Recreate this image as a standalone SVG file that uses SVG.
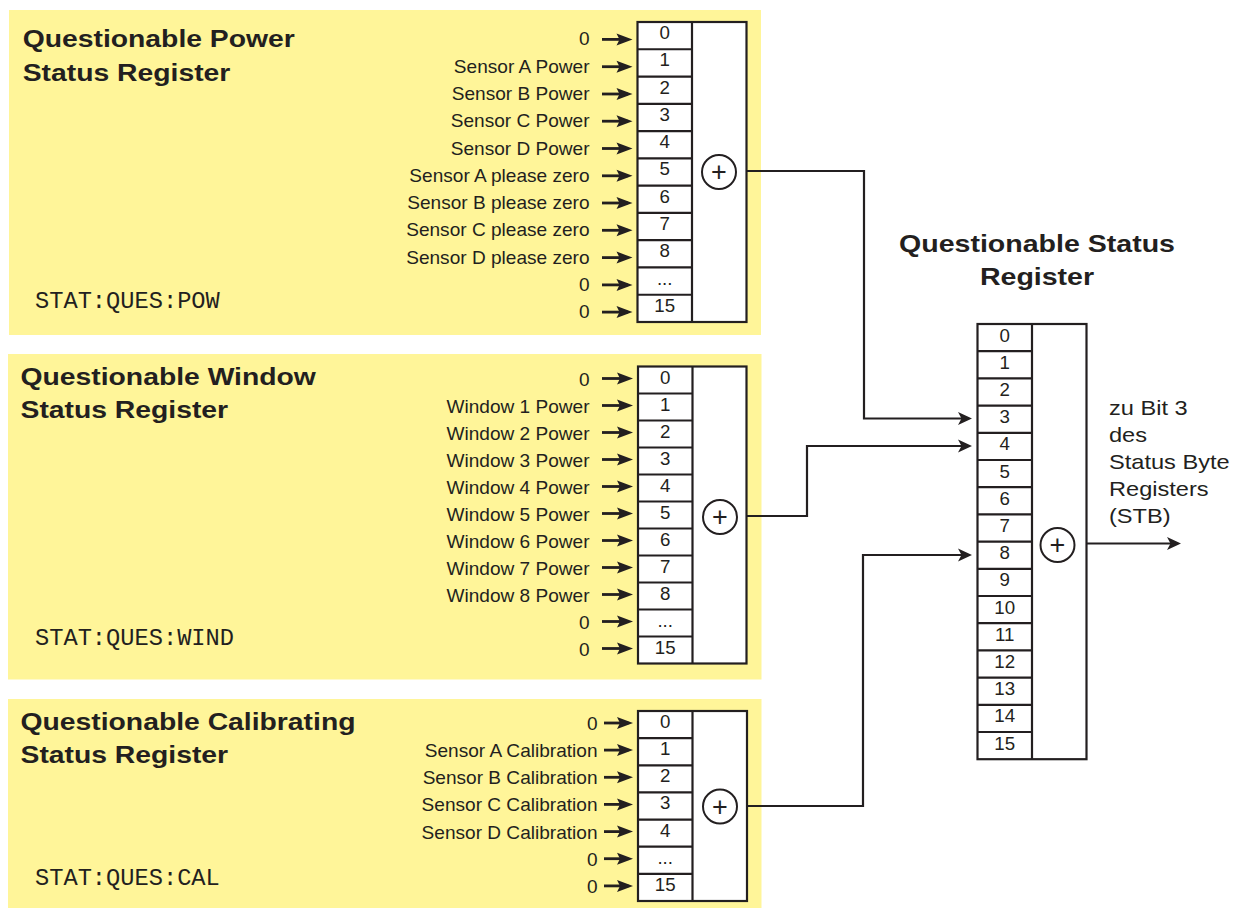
<svg xmlns="http://www.w3.org/2000/svg" width="1234" height="909" viewBox="0 0 1234 909">
<style>
.bg{fill:#fff599;stroke:none}
.cell{fill:#fff;stroke:#231f20;stroke-width:2.2}
.ln{fill:none;stroke:#231f20;stroke-width:2.2}
.sum{fill:#fff;stroke:#231f20;stroke-width:2}
.in{fill:none;stroke:#231f20;stroke-width:2.8;marker-end:url(#ahs)}
.con{fill:none;stroke:#231f20;stroke-width:2.2}
.conA{fill:none;stroke:#231f20;stroke-width:2.2;marker-end:url(#ahb)}
text{font-family:"Liberation Sans",Arial,sans-serif;fill:#231f20}
.t{font-size:24px;font-weight:bold}
.l{font-size:18px;text-anchor:end}
.d{font-size:18px;text-anchor:middle}
.o{font-size:20px}
.m{font-family:"Liberation Mono","Courier New",monospace;font-size:23.7px}
.p{font-size:27px;text-anchor:middle}
</style>
<defs>
<marker id="ahs" viewBox="-13 -7 18 14" refX="0" refY="0" markerWidth="18" markerHeight="14" markerUnits="userSpaceOnUse" orient="auto">
<path d="M4.5,0 L-11.5,-6 L-8.5,0 L-11.5,6 Z" fill="#231f20"/>
</marker>
<marker id="ahb" viewBox="-12 -8 17 16" refX="0" refY="0" markerWidth="17" markerHeight="16" markerUnits="userSpaceOnUse" orient="auto">
<path d="M4,0 L-10,-6.5 L-6.5,0 L-10,6.5 Z" fill="#231f20"/>
</marker>
</defs>
<rect width="1234" height="909" fill="#fff"/>

<g id="pow">
<rect class="bg" x="9" y="10" width="752" height="325"/>
<text class="t" transform="matrix(1.18 0 0 1 22.7 47.3)">Questionable Power</text>
<text class="t" transform="matrix(1.18 0 0 1 22.7 80.7)">Status Register</text>
<text class="m" x="35" y="307.5">STAT:QUES:POW</text>
<rect class="cell" x="637.5" y="22" width="109" height="300"/>
<path class="ln" d="M692,22V322M637.5,49.27H692M637.5,76.55H692M637.5,103.82H692M637.5,131.09H692M637.5,158.36H692M637.5,185.64H692M637.5,212.91H692M637.5,240.18H692M637.5,267.45H692M637.5,294.73H692"/>
<circle class="sum" cx="719" cy="172" r="17"/>
<text class="p" x="719" y="181">+</text>
<g>
<text class="d" transform="matrix(1.04 0 0 1 664.7 39)">0</text>
<text class="d" transform="matrix(1.04 0 0 1 664.7 66.3)">1</text>
<text class="d" transform="matrix(1.04 0 0 1 664.7 93.5)">2</text>
<text class="d" transform="matrix(1.04 0 0 1 664.7 120.8)">3</text>
<text class="d" transform="matrix(1.04 0 0 1 664.7 148.1)">4</text>
<text class="d" transform="matrix(1.04 0 0 1 664.7 175.4)">5</text>
<text class="d" transform="matrix(1.04 0 0 1 664.7 202.6)">6</text>
<text class="d" transform="matrix(1.04 0 0 1 664.7 229.9)">7</text>
<text class="d" transform="matrix(1.04 0 0 1 664.7 257.2)">8</text>
<text class="d" transform="matrix(1.04 0 0 1 664.7 284.5)">...</text>
<text class="d" transform="matrix(1.04 0 0 1 664.7 311.7)">15</text>
</g>
<g>
<text class="l" transform="matrix(1.06 0 0 1 589.5 45.4)">0</text>
<text class="l" transform="matrix(1.06 0 0 1 589.5 72.7)">Sensor A Power</text>
<text class="l" transform="matrix(1.06 0 0 1 589.5 100)">Sensor B Power</text>
<text class="l" transform="matrix(1.06 0 0 1 589.5 127.2)">Sensor C Power</text>
<text class="l" transform="matrix(1.06 0 0 1 589.5 154.5)">Sensor D Power</text>
<text class="l" transform="matrix(1.06 0 0 1 589.5 181.8)">Sensor A please zero</text>
<text class="l" transform="matrix(1.06 0 0 1 589.5 209)">Sensor B please zero</text>
<text class="l" transform="matrix(1.06 0 0 1 589.5 236.3)">Sensor C please zero</text>
<text class="l" transform="matrix(1.06 0 0 1 589.5 263.6)">Sensor D please zero</text>
<text class="l" transform="matrix(1.06 0 0 1 589.5 290.9)">0</text>
<text class="l" transform="matrix(1.06 0 0 1 589.5 318.1)">0</text>
</g>
<path class="in" d="M602,39.4H628"/>
<path class="in" d="M602,66.7H628"/>
<path class="in" d="M602,94H628"/>
<path class="in" d="M602,121.2H628"/>
<path class="in" d="M602,148.5H628"/>
<path class="in" d="M602,175.8H628"/>
<path class="in" d="M602,203H628"/>
<path class="in" d="M602,230.3H628"/>
<path class="in" d="M602,257.6H628"/>
<path class="in" d="M602,284.9H628"/>
<path class="in" d="M602,312.1H628"/>
</g>

<g id="wind">
<rect class="bg" x="8" y="354" width="753.5" height="325.5"/>
<text class="t" transform="matrix(1.18 0 0 1 20.5 385)">Questionable Window</text>
<text class="t" transform="matrix(1.18 0 0 1 20.5 418.3)">Status Register</text>
<text class="m" x="35" y="645">STAT:QUES:WIND</text>
<rect class="cell" x="638" y="366.5" width="108.5" height="297"/>
<path class="ln" d="M692.5,366.5V663.5M638,393.5H692.5M638,420.5H692.5M638,447.5H692.5M638,474.5H692.5M638,501.5H692.5M638,528.5H692.5M638,555.5H692.5M638,582.5H692.5M638,609.5H692.5M638,636.5H692.5"/>
<circle class="sum" cx="720" cy="517" r="17"/>
<text class="p" x="720" y="526">+</text>
<g>
<text class="d" transform="matrix(1.04 0 0 1 665.2 383.5)">0</text>
<text class="d" transform="matrix(1.04 0 0 1 665.2 410.5)">1</text>
<text class="d" transform="matrix(1.04 0 0 1 665.2 437.5)">2</text>
<text class="d" transform="matrix(1.04 0 0 1 665.2 464.5)">3</text>
<text class="d" transform="matrix(1.04 0 0 1 665.2 491.5)">4</text>
<text class="d" transform="matrix(1.04 0 0 1 665.2 518.5)">5</text>
<text class="d" transform="matrix(1.04 0 0 1 665.2 545.5)">6</text>
<text class="d" transform="matrix(1.04 0 0 1 665.2 572.5)">7</text>
<text class="d" transform="matrix(1.04 0 0 1 665.2 599.5)">8</text>
<text class="d" transform="matrix(1.04 0 0 1 665.2 626.5)">...</text>
<text class="d" transform="matrix(1.04 0 0 1 665.2 653.5)">15</text>
</g>
<g>
<text class="l" transform="matrix(1.06 0 0 1 589.5 385.5)">0</text>
<text class="l" transform="matrix(1.06 0 0 1 589.5 412.5)">Window 1 Power</text>
<text class="l" transform="matrix(1.06 0 0 1 589.5 439.5)">Window 2 Power</text>
<text class="l" transform="matrix(1.06 0 0 1 589.5 466.5)">Window 3 Power</text>
<text class="l" transform="matrix(1.06 0 0 1 589.5 493.5)">Window 4 Power</text>
<text class="l" transform="matrix(1.06 0 0 1 589.5 520.5)">Window 5 Power</text>
<text class="l" transform="matrix(1.06 0 0 1 589.5 547.5)">Window 6 Power</text>
<text class="l" transform="matrix(1.06 0 0 1 589.5 574.5)">Window 7 Power</text>
<text class="l" transform="matrix(1.06 0 0 1 589.5 601.5)">Window 8 Power</text>
<text class="l" transform="matrix(1.06 0 0 1 589.5 628.5)">0</text>
<text class="l" transform="matrix(1.06 0 0 1 589.5 655.5)">0</text>
</g>
<path class="in" d="M602,378.5H628.5"/>
<path class="in" d="M602,405.5H628.5"/>
<path class="in" d="M602,432.5H628.5"/>
<path class="in" d="M602,459.5H628.5"/>
<path class="in" d="M602,486.5H628.5"/>
<path class="in" d="M602,513.5H628.5"/>
<path class="in" d="M602,540.5H628.5"/>
<path class="in" d="M602,567.5H628.5"/>
<path class="in" d="M602,594.5H628.5"/>
<path class="in" d="M602,621.5H628.5"/>
<path class="in" d="M602,648.5H628.5"/>
</g>

<g id="cal">
<rect class="bg" x="8" y="699" width="753.5" height="209"/>
<text class="t" transform="matrix(1.18 0 0 1 20.5 730)">Questionable Calibrating</text>
<text class="t" transform="matrix(1.18 0 0 1 20.5 763.3)">Status Register</text>
<text class="m" x="35" y="885">STAT:QUES:CAL</text>
<rect class="cell" x="638" y="711" width="109" height="190"/>
<path class="ln" d="M692.5,711V901M638,738.14H692.5M638,765.29H692.5M638,792.43H692.5M638,819.57H692.5M638,846.71H692.5M638,873.86H692.5"/>
<circle class="sum" cx="720" cy="806.5" r="17"/>
<text class="p" x="720" y="815.5">+</text>
<g>
<text class="d" transform="matrix(1.04 0 0 1 665.2 728)">0</text>
<text class="d" transform="matrix(1.04 0 0 1 665.2 755.1)">1</text>
<text class="d" transform="matrix(1.04 0 0 1 665.2 782.3)">2</text>
<text class="d" transform="matrix(1.04 0 0 1 665.2 809.4)">3</text>
<text class="d" transform="matrix(1.04 0 0 1 665.2 836.6)">4</text>
<text class="d" transform="matrix(1.04 0 0 1 665.2 863.7)">...</text>
<text class="d" transform="matrix(1.04 0 0 1 665.2 890.9)">15</text>
</g>
<g>
<text class="l" transform="matrix(1.06 0 0 1 597.5 730)">0</text>
<text class="l" transform="matrix(1.06 0 0 1 597.5 757.1)">Sensor A Calibration</text>
<text class="l" transform="matrix(1.06 0 0 1 597.5 784.3)">Sensor B Calibration</text>
<text class="l" transform="matrix(1.06 0 0 1 597.5 811.4)">Sensor C Calibration</text>
<text class="l" transform="matrix(1.06 0 0 1 597.5 838.6)">Sensor D Calibration</text>
<text class="l" transform="matrix(1.06 0 0 1 597.5 865.7)">0</text>
<text class="l" transform="matrix(1.06 0 0 1 597.5 892.9)">0</text>
</g>
<path class="in" d="M604,723H628.5"/>
<path class="in" d="M604,750.1H628.5"/>
<path class="in" d="M604,777.3H628.5"/>
<path class="in" d="M604,804.4H628.5"/>
<path class="in" d="M604,831.6H628.5"/>
<path class="in" d="M604,858.7H628.5"/>
<path class="in" d="M604,885.9H628.5"/>
</g>

<g id="ques">
<text class="t" text-anchor="middle" transform="matrix(1.19 0 0 1 1037 252)">Questionable Status</text>
<text class="t" text-anchor="middle" transform="matrix(1.19 0 0 1 1037 285)">Register</text>
<rect class="cell" x="977.5" y="324" width="109" height="435.2"/>
<path class="ln" d="M1032,324V759.2M977.5,351.2H1032M977.5,378.4H1032M977.5,405.6H1032M977.5,432.8H1032M977.5,460H1032M977.5,487.2H1032M977.5,514.4H1032M977.5,541.6H1032M977.5,568.8H1032M977.5,596H1032M977.5,623.2H1032M977.5,650.4H1032M977.5,677.6H1032M977.5,704.8H1032M977.5,732H1032"/>
<circle class="sum" cx="1057.5" cy="545" r="17"/>
<text class="p" x="1057.5" y="554">+</text>
<g>
<text class="d" transform="matrix(1.04 0 0 1 1004.7 341.5)">0</text>
<text class="d" transform="matrix(1.04 0 0 1 1004.7 368.7)">1</text>
<text class="d" transform="matrix(1.04 0 0 1 1004.7 395.9)">2</text>
<text class="d" transform="matrix(1.04 0 0 1 1004.7 423.1)">3</text>
<text class="d" transform="matrix(1.04 0 0 1 1004.7 450.3)">4</text>
<text class="d" transform="matrix(1.04 0 0 1 1004.7 477.5)">5</text>
<text class="d" transform="matrix(1.04 0 0 1 1004.7 504.7)">6</text>
<text class="d" transform="matrix(1.04 0 0 1 1004.7 531.9)">7</text>
<text class="d" transform="matrix(1.04 0 0 1 1004.7 559.1)">8</text>
<text class="d" transform="matrix(1.04 0 0 1 1004.7 586.3)">9</text>
<text class="d" transform="matrix(1.04 0 0 1 1004.7 613.5)">10</text>
<text class="d" transform="matrix(1.04 0 0 1 1004.7 640.7)">11</text>
<text class="d" transform="matrix(1.04 0 0 1 1004.7 667.9)">12</text>
<text class="d" transform="matrix(1.04 0 0 1 1004.7 695.1)">13</text>
<text class="d" transform="matrix(1.04 0 0 1 1004.7 722.3)">14</text>
<text class="d" transform="matrix(1.04 0 0 1 1004.7 749.5)">15</text>
</g>
</g>

<g id="stb">
<text class="o" transform="matrix(1.18 0 0 1 1109 415)">zu Bit 3</text>
<text class="o" transform="matrix(1.18 0 0 1 1109 442)">des</text>
<text class="o" transform="matrix(1.18 0 0 1 1109 469)">Status Byte</text>
<text class="o" transform="matrix(1.18 0 0 1 1109 496)">Registers</text>
<text class="o" transform="matrix(1.18 0 0 1 1109 523)">(STB)</text>
</g>

<g id="connectors">
<path class="conA" d="M746.5,171H864V418.5H968"/>
<path class="conA" d="M746.5,516H807V446H968"/>
<path class="conA" d="M747.5,806H863V555H968"/>
<path class="conA" d="M1086.5,543.5H1177"/>
</g>
</svg>
